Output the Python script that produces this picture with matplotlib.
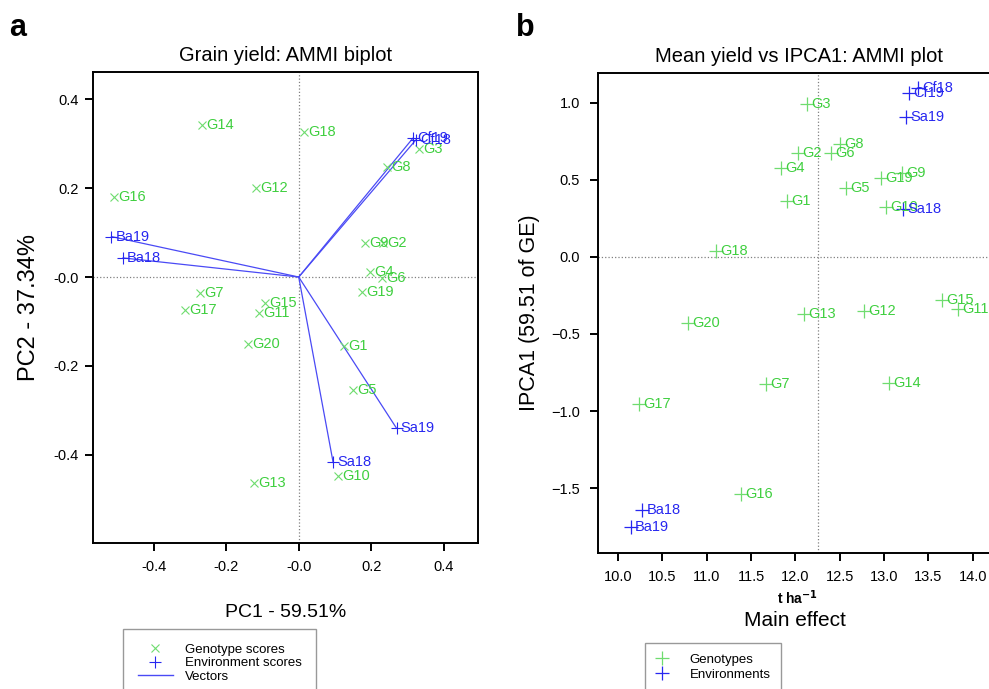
import matplotlib
matplotlib.use("Agg")
import matplotlib.pyplot as plt
from matplotlib.lines import Line2D

plt.rcParams['font.family'] = ['Liberation Sans', 'DejaVu Sans']

# ---- panel a: AMMI biplot scores (PC1, PC2) ----
gen_names = ["G1", "G2", "G3", "G4", "G5", "G6", "G7", "G8", "G9", "G10",
             "G11", "G12", "G13", "G14", "G15", "G16", "G17", "G18", "G19", "G20"]
gen_pc1 = [0.124, 0.233, 0.331, 0.196, 0.150, 0.230, -0.273, 0.245, 0.184, 0.108,
           -0.109, -0.117, -0.124, -0.268, -0.092, -0.510, -0.314, 0.015, 0.175, -0.140]
gen_pc2 = [-0.155, 0.076, 0.287, 0.011, -0.254, -0.003, -0.035, 0.248, 0.076, -0.447,
           -0.080, 0.201, -0.464, 0.342, -0.059, 0.180, -0.074, 0.326, -0.033, -0.151]

env_names = ["Ba18", "Ba19", "Cf18", "Cf19", "Sa18", "Sa19"]
env_pc1 = [-0.485, -0.517, 0.323, 0.315, 0.095, 0.270]
env_pc2 = [0.043, 0.091, 0.308, 0.312, -0.417, -0.340]

# ---- panel b: mean yield vs IPCA1 ----
gen_mean = [11.909, 12.033, 12.127, 11.838, 12.571, 12.405, 11.669, 12.503, 13.198, 13.025,
            13.829, 12.773, 12.100, 13.055, 13.656, 11.383, 10.233, 11.108, 12.962, 10.786]
gen_ipca1 = [0.366, 0.677, 0.991, 0.580, 0.446, 0.677, -0.827, 0.734, 0.547, 0.323,
             -0.338, -0.349, -0.372, -0.816, -0.279, -1.541, -0.955, 0.039, 0.515, -0.426]
env_mean = [10.274, 10.147, 13.379, 13.285, 13.217, 13.247]
env_ipca1 = [-1.643, -1.751, 1.100, 1.067, 0.314, 0.911]
grand_mean = 12.255

GREEN = "#3fcf3f"
GREEN_MK = "#6fdc6f"
BLUE = "#2727f0"
BLUE_LN = "#4a4af5"

fig = plt.figure(figsize=(9.89, 6.89), dpi=100)
ax1 = fig.add_axes([0.094, 0.2119, 0.389, 0.6836])
ax2 = fig.add_axes([0.6047, 0.1974, 0.4065, 0.6967])


def style_axes(ax, ypad):
    for s in ["top", "right", "left", "bottom"]:
        ax.spines[s].set_linewidth(1.4)
    ax.tick_params(direction="out", length=6, width=1.4, labelsize=10.5)
    ax.tick_params(axis="x", pad=6)
    ax.tick_params(axis="y", pad=ypad)


# panel a
ax1.axhline(0, color="#808080", ls=":", lw=0.9, zorder=0)
ax1.axvline(0, color="#808080", ls=":", lw=0.9, zorder=0)
for x, y in zip(env_pc1, env_pc2):
    ax1.plot([0, x], [0, y], color=BLUE_LN, lw=0.9)
ax1.plot(gen_pc1, gen_pc2, "x", color=GREEN_MK, ms=6, mew=0.8, ls="none")
ax1.plot(env_pc1, env_pc2, "+", color=BLUE, ms=9, mew=0.8, ls="none")
for n, x, y in zip(gen_names, gen_pc1, gen_pc2):
    ax1.annotate(n, (x, y), xytext=(3, 0), textcoords="offset points",
                 va="center", ha="left", color=GREEN, fontsize=10.5)
for n, x, y in zip(env_names, env_pc1, env_pc2):
    ax1.annotate(n, (x, y), xytext=(3, 0), textcoords="offset points",
                 va="center", ha="left", color=BLUE, fontsize=10.5)
ax1.set_xlim(-0.568, 0.494)
ax1.set_ylim(-0.598, 0.461)
ax1.set_xticks([-0.4, -0.2, 0.0, 0.2, 0.4])
ax1.set_xticklabels(["-0.4", "-0.2", "-0.0", "0.2", "0.4"])
ax1.set_yticks([-0.4, -0.2, 0.0, 0.2, 0.4])
ax1.set_yticklabels(["-0.4", "-0.2", "-0.0", "0.2", "0.4"])
style_axes(ax1, 4)
ax1.set_title("Grain yield: AMMI biplot", fontsize=14.5, pad=8)
ax1.set_xlabel("PC1 - 59.51%", fontsize=14, labelpad=22)
ax1.set_ylabel("PC2 - 37.34%", fontsize=17, labelpad=10)

h1 = [Line2D([], [], marker="x", color=GREEN_MK, ls="none", ms=6, mew=0.8),
      Line2D([], [], marker="+", color=BLUE, ls="none", ms=9, mew=0.8),
      Line2D([], [], color=BLUE_LN, lw=1.0)]
fig.legend(h1, ["Genotype scores", "Environment scores", "Vectors"],
           loc="upper left", bbox_to_anchor=(123 / 989, 1 - 629 / 689),
           borderaxespad=0, frameon=True, fancybox=False, edgecolor="#808080",
           fontsize=9.5, handlelength=2.7, labelspacing=0.1, borderpad=1.1,
           handletextpad=0.9)

# panel b
ax2.axhline(0, color="#808080", ls=":", lw=0.9, zorder=0)
ax2.axvline(grand_mean, color="#808080", ls=":", lw=0.9, zorder=0)
ax2.plot(gen_mean, gen_ipca1, "+", color=GREEN_MK, ms=10, mew=0.9, ls="none")
ax2.plot(env_mean, env_ipca1, "+", color=BLUE, ms=10, mew=0.9, ls="none")
for n, x, y in zip(gen_names, gen_mean, gen_ipca1):
    ax2.annotate(n, (x, y), xytext=(3, 0), textcoords="offset points",
                 va="center", ha="left", color=GREEN, fontsize=10.5)
for n, x, y in zip(env_names, env_mean, env_ipca1):
    ax2.annotate(n, (x, y), xytext=(3, 0), textcoords="offset points",
                 va="center", ha="left", color=BLUE, fontsize=10.5)
ax2.set_xlim(9.775, 14.307)
ax2.set_ylim(-1.922, 1.195)
ax2.set_xticks([10.0, 10.5, 11.0, 11.5, 12.0, 12.5, 13.0, 13.5, 14.0])
ax2.set_yticks([-1.5, -1.0, -0.5, 0.0, 0.5, 1.0])
style_axes(ax2, 7)
ax2.set_title("Mean yield vs IPCA1: AMMI plot", fontsize=14.5, pad=8)
ax2.set_ylabel("IPCA1 (59.51 of GE)", fontsize=15.5, labelpad=8)
fig.text(798 / 989, 1 - 598 / 689, r"t ha$^{\mathbf{-1}}$", ha="center",
         va="center", fontsize=10, fontweight="bold")
fig.text(795 / 989, 1 - 621 / 689, "Main effect", ha="center", va="center",
         fontsize=15)

h2 = [Line2D([], [], marker="+", color=GREEN_MK, ls="none", ms=10, mew=0.9),
      Line2D([], [], marker="+", color=BLUE, ls="none", ms=10, mew=0.9)]
fig.legend(h2, ["Genotypes", "Environments"],
           loc="upper left", bbox_to_anchor=(645 / 989, 1 - 643 / 689),
           borderaxespad=0, frameon=True, fancybox=False, edgecolor="#808080",
           fontsize=9.5, handlelength=1.0, labelspacing=0.2, borderpad=0.8,
           handletextpad=1.6)

fig.text(18 / 989, 1 - 28 / 689, "a", fontsize=22, fontweight="bold",
         ha="center", va="center")
fig.text(525 / 989, 1 - 28 / 689, "b", fontsize=22, fontweight="bold",
         ha="center", va="center")

fig.savefig("out.png", dpi=100)
plt.close(fig)
